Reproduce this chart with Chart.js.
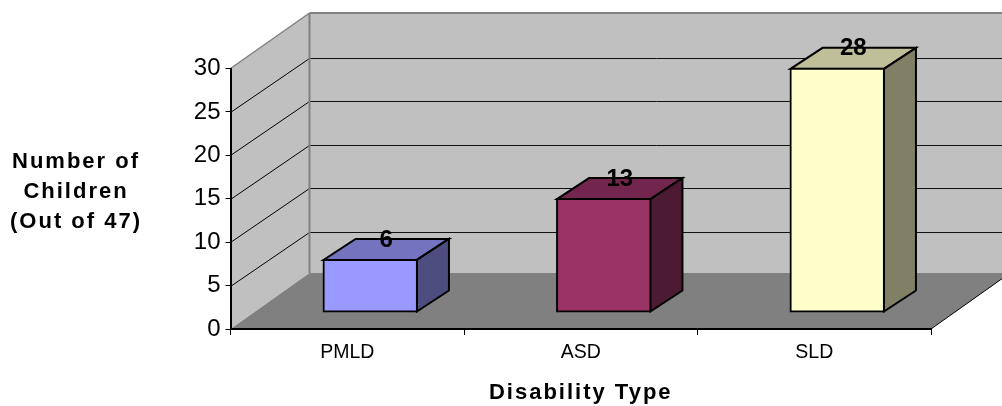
<!DOCTYPE html>
<html>
<head>
<meta charset="utf-8">
<style>
  html, body { margin: 0; padding: 0; background: #fff; }
  canvas { display: block; }
</style>
<script src="https://cdn.jsdelivr.net/npm/chart.js@4"></script>
</head>
<body>
<canvas id="chart" width="1002" height="406"></canvas>
<script>
// ── Data ──────────────────────────────────────────
const categories = ['PMLD', 'ASD', 'SLD'];
const children = [6, 13, 28];
const yTitleLines = ['Number of', 'Children', '(Out of 47)'];
const xTitle = 'Disability Type';

// ── Colours (front / top / side of each bar) ──────
const frontColors = ['#9999FF', '#993366', '#FFFFCC'];
const topColors = ['#7373BF', '#73264D', '#BFBF99'];
const sideColors = ['#4D4D80', '#4D1A33', '#808066'];

const FONT = '"Liberation Sans", Arial, sans-serif';

// depth of the box behind the axes, and of each bar
const WALL_DX = 79, TOP_DY = -55.5, FLOOR_DY = -56, GRID_DY = -54;
const BAR_SHIFT_X = 23, BAR_SHIFT_Y = -17;
const BAR_DX = 32, BAR_DY = -21;

function line(ctx, x1, y1, x2, y2, color, width) {
  ctx.strokeStyle = color;
  ctx.lineWidth = width;
  ctx.beginPath();
  ctx.moveTo(x1, y1);
  ctx.lineTo(x2, y2);
  ctx.stroke();
}

function poly(ctx, pts, fill, stroke) {
  ctx.beginPath();
  pts.forEach((p, i) => i ? ctx.lineTo(p[0], p[1]) : ctx.moveTo(p[0], p[1]));
  ctx.closePath();
  ctx.fillStyle = fill;
  ctx.fill();
  if (stroke) {
    ctx.strokeStyle = stroke;
    ctx.lineWidth = 2;
    ctx.lineJoin = 'miter';
    ctx.stroke();
  }
}

// ── Walls and floor, behind the axes ──────────────
const boxPlugin = {
  id: 'box',
  beforeDraw(chart) {
    const ctx = chart.ctx;
    const a = chart.chartArea;
    const yScale = chart.scales.y;
    const back = a.left + WALL_DX;
    const far = a.right + WALL_DX;
    ctx.save();
    // side wall + back wall
    poly(ctx, [[a.left, a.top], [back, a.top + TOP_DY], [back, a.bottom + FLOOR_DY], [a.left, a.bottom]], '#C0C0C0');
    poly(ctx, [[back, a.top + TOP_DY], [far, a.top + TOP_DY], [far, a.bottom + FLOOR_DY], [back, a.bottom + FLOOR_DY]], '#C0C0C0');
    // floor
    poly(ctx, [[a.left, a.bottom], [a.right, a.bottom], [far, a.bottom + FLOOR_DY], [back, a.bottom + FLOOR_DY]], '#808080');
    // gridlines
    yScale.ticks.forEach(t => {
      if (t.value === 0 || t.value === yScale.max) return;
      const y = Math.round(yScale.getPixelForValue(t.value)) + 0.5;
      line(ctx, a.left, y, back, y + GRID_DY, '#000', 1);
      line(ctx, back, y + GRID_DY, far, y + GRID_DY, '#111', 1);
    });
    // edges
    line(ctx, a.left, a.top, back, a.top + TOP_DY, '#808080', 1.5);
    line(ctx, back, a.top + TOP_DY, far, a.top + TOP_DY, '#808080', 2);
    line(ctx, back, a.top + TOP_DY, back, a.bottom + FLOOR_DY, '#808080', 2);
    line(ctx, a.right, a.bottom, far, a.bottom + FLOOR_DY, '#000', 1);
    ctx.restore();
  }
};

// ── Bar top and side faces, front face is the library's ──
const depthPlugin = {
  id: 'depth',
  beforeDatasetDraw(chart, args) {
    const ctx = chart.ctx;
    ctx.save();
    ctx.translate(BAR_SHIFT_X, BAR_SHIFT_Y);
    args.meta.data.forEach((bar, i) => {
      const l = bar.x - bar.width / 2, r = bar.x + bar.width / 2;
      const t = bar.y, b = bar.base;
      poly(ctx, [[l, t], [r, t], [r + BAR_DX, t + BAR_DY], [l + BAR_DX, t + BAR_DY]], topColors[i], '#000');
      poly(ctx, [[r, t], [r + BAR_DX, t + BAR_DY], [r + BAR_DX, b + BAR_DY], [r, b]], sideColors[i], '#000');
    });
  },
  afterDatasetDraw(chart, args) {
    const ctx = chart.ctx;
    ctx.restore();
    // value labels sit on the back edge of each top face
    ctx.save();
    ctx.fillStyle = '#000';
    ctx.font = 'bold 24px ' + FONT;
    ctx.textAlign = 'center';
    ctx.textBaseline = 'middle';
    args.meta.data.forEach((bar, i) => {
      ctx.fillText(children[i], bar.x + BAR_SHIFT_X + BAR_DX / 2, bar.y + BAR_SHIFT_Y + BAR_DY + 1);
    });
    // axis titles need the wide tracking of the original, the library can't do that
    ctx.font = 'bold 22px ' + FONT;
    ctx.letterSpacing = '2px';
    yTitleLines.forEach((txt, i) => ctx.fillText(txt, 76, 162 + i * 30));
    ctx.fillText(xTitle, (chart.chartArea.left + chart.chartArea.right) / 2, 393);
    ctx.restore();
  }
};

// ── Chart ─────────────────────────────────────────
new Chart(document.getElementById('chart').getContext('2d'), {
  type: 'bar',
  plugins: [boxPlugin, depthPlugin],
  data: {
    labels: categories,
    datasets: [{
      data: children,
      backgroundColor: frontColors,
      borderColor: '#000',
      borderWidth: 2,
      borderSkipped: false,
      inflateAmount: 1,
      barPercentage: 0.4,
      categoryPercentage: 1,
      clip: false
    }]
  },
  options: {
    responsive: false,
    animation: false,
    layout: { padding: { top: 68.5, right: 71, left: 0, bottom: 0 } },
    plugins: { legend: { display: false }, tooltip: { enabled: false } },
    scales: {
      x: {
        afterFit(scale) { scale.height = 77; },
        grid: { drawOnChartArea: false, drawTicks: true, tickLength: 6, color: '#000', offset: true },
        border: { color: '#000', width: 2 },
        ticks: { color: '#000', padding: 6, maxRotation: 0, font: { family: FONT, size: 19.5 } }
      },
      y: {
        min: 0,
        max: 30,
        afterFit(scale) { scale.width = 230.5; },
        grid: { drawOnChartArea: false, drawTicks: true, tickLength: 5, color: '#000' },
        border: { color: '#000', width: 2 },
        ticks: { stepSize: 5, color: '#000', padding: 5, font: { family: FONT, size: 24 } }
      }
    }
  }
});
</script>
</body>
</html>
